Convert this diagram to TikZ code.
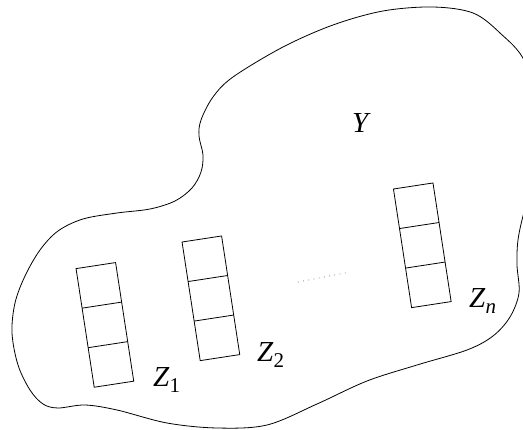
\documentclass[tikz,border=0pt]{standalone}
\usepackage{fontspec}
\setmainfont{Liberation Serif}
\newcommand\sublbl[2]{\textit{#1}\raisebox{-0.2em}{\fontsize{21}{21}\selectfont #2}}
\tikzset{
  outline/.style={draw=black, line width=0.8pt},
  cellbox/.style={draw=black, line width=0.8pt},
  lbl/.style={anchor=base west, inner sep=0pt, font=\fontsize{29}{29}\selectfont},
  dotline/.style={draw=black!70, line width=0.7pt, dash pattern=on 0.7pt off 4.6pt},
}
\begin{document}
\begin{tikzpicture}[x=1pt,y=-1pt]
\useasboundingbox (0,0) rectangle (523,430);
\clip (0,0) rectangle (523,430);
% the set Y
\draw[outline] plot[smooth cycle, tension=0.55] coordinates {
 (433,7) (383,11) (333,25) (283,47) (233,77) (213,97) (201,120) (199,136)
 (203,155) (201,172) (192,188) (175,201) (150,209) (117,213) (83,219)
 (58,231) (40,250) (25,276) (15,303) (12,333) (18,365) (30,390) (43,404)
 (58,408) (85,405) (117,410) (167,423) (217,428) (267,425) (317,404)
 (367,381) (417,365) (467,350) (493,336) (510,317) (519,293) (517,265)
 (518,240) (524,212) (536,170) (540,120) (525,62) (500,33) (473,13)};
% Z_1
\begin{scope}[shift={(104.9,324.9)}, rotate=8.7]
  \draw[cellbox] (-20,-60) rectangle (20,60);
  \draw[cellbox] (-20,-20) -- (20,-20);
  \draw[cellbox] (-20,20) -- (20,20);
\end{scope}
% Z_2
\begin{scope}[shift={(210.9,298.3)}, rotate=8.7]
  \draw[cellbox] (-20,-60) rectangle (20,60);
  \draw[cellbox] (-20,-20) -- (20,-20);
  \draw[cellbox] (-20,20) -- (20,20);
\end{scope}
% Z_n
\begin{scope}[shift={(422.3,245.3)}, rotate=8.7]
  \draw[cellbox] (-20,-60) rectangle (20,60);
  \draw[cellbox] (-20,-20) -- (20,-20);
  \draw[cellbox] (-20,20) -- (20,20);
\end{scope}
% dots
\coordinate (d1) at (298,282);
\coordinate (d2) at (350,272);
\draw[dotline] (d1) -- (d2);
% labels
\node[lbl] (Y) at (352,133) {\textit{Y}};
\node[lbl] (z1) at (153,387) {\sublbl{Z}{1}};
\node[lbl] (z2) at (257,362) {\sublbl{Z}{2}};
\node[lbl] (zn) at (469,308) {\sublbl{Z}{\textit{n}}};
\end{tikzpicture}
\end{document}
